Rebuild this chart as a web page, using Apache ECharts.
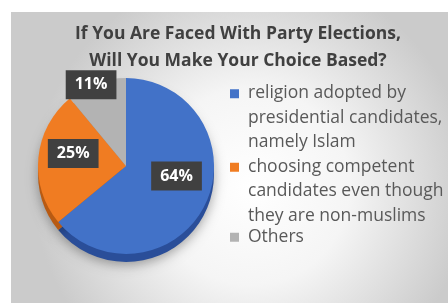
<!DOCTYPE html>
<html><head><meta charset="utf-8">
<script src="https://cdn.jsdelivr.net/npm/echarts@6/dist/echarts.min.js"></script>
<style>html,body{margin:0;padding:0;background:#fff}#c{width:448px;height:306px}</style>
</head><body><div id="c"></div>
<script>
const titleLines = ['If You Are Faced With Party Elections,', 'Will You Make Your Choice Based?'];
const categories = [
  'religion adopted by\npresidential candidates,\nnamely Islam',
  'choosing competent\ncandidates even though\nthey are non-muslims',
  'Others'
];
const values = [64, 25, 11];
const colors = ['#4272c8', '#f07c22', '#b3b3b3'];
const sideColors = ['#2a4e99', '#b85a12', '#8a8a8a'];

const chart = echarts.init(document.getElementById('c'));
const labelOffsets = [[8, -10], [-6, -8], [-19, -37]];
const font = '"Open Sans", "Liberation Sans", sans-serif';
// square marker aligned with the first text line of a 3-line (72px) legend item
const topIcon = 'path://M0,0M9,72M0,7.5L9,7.5L9,16.5L0,16.5Z';
const legendText = {fontFamily: font, fontSize: 17.5, color: '#595959', lineHeight: 24.5, padding: [0, 0, 0, 4]};
chart.setOption({
  animation: false,
  graphic: [{
    type: 'rect', z: -10, silent: true,
    shape: {x: 11, y: 12, width: 437, height: 291},
    style: {fill: {type: 'radial', x: 0.55, y: 0.6, r: 0.75,
      colorStops: [{offset: 0, color: '#ffffff'}, {offset: 0.45, color: '#f5f5f5'}, {offset: 1, color: '#cbcbcb'}]}}
  }],
  title: {
    text: titleLines.join('\n'), left: 233, top: 16, textAlign: 'center',
    textStyle: {fontFamily: font, fontWeight: 'bold', fontSize: 17.5, color: '#404040', lineHeight: 27}
  },
  legend: [{
    orient: 'vertical', left: 225, top: 76, itemWidth: 9, itemHeight: 73.5, itemGap: 0,
    data: categories.slice(0, 2).map(n => ({name: n, icon: topIcon})),
    textStyle: legendText
  }, {
    orient: 'vertical', left: 225, top: 220, itemWidth: 9, itemHeight: 9, itemGap: 0,
    icon: 'rect', data: categories.slice(2),
    textStyle: legendText
  }],
  series: [{
    type: 'pie', center: [126, 174], radius: 88, startAngle: 90, clockwise: true,
    silent: true, z: 1, legendHoverLink: false,
    label: {show: false}, labelLine: {show: false},
    itemStyle: {shadowBlur: 12, shadowColor: 'rgba(0,0,0,0.35)', shadowOffsetY: 3},
    data: values.map((v, i) => ({value: v, name: categories[i] + ' ', itemStyle: {color: sideColors[i]}}))
  }, {
    type: 'pie', center: [126, 166], radius: 88, startAngle: 90, clockwise: true,
    z: 2,
    label: {
      show: true, position: 'inside', formatter: '{c}%',
      fontFamily: font, fontWeight: 'bold', fontSize: 16, color: '#ffffff',
      backgroundColor: '#404040', padding: [7, 9, 6, 9]
    },
    labelLine: {show: false},
    data: values.map((v, i) => ({value: v, name: categories[i], itemStyle: {color: colors[i]},
      label: {offset: labelOffsets[i]}}))
  }]
});
</script></body></html>
